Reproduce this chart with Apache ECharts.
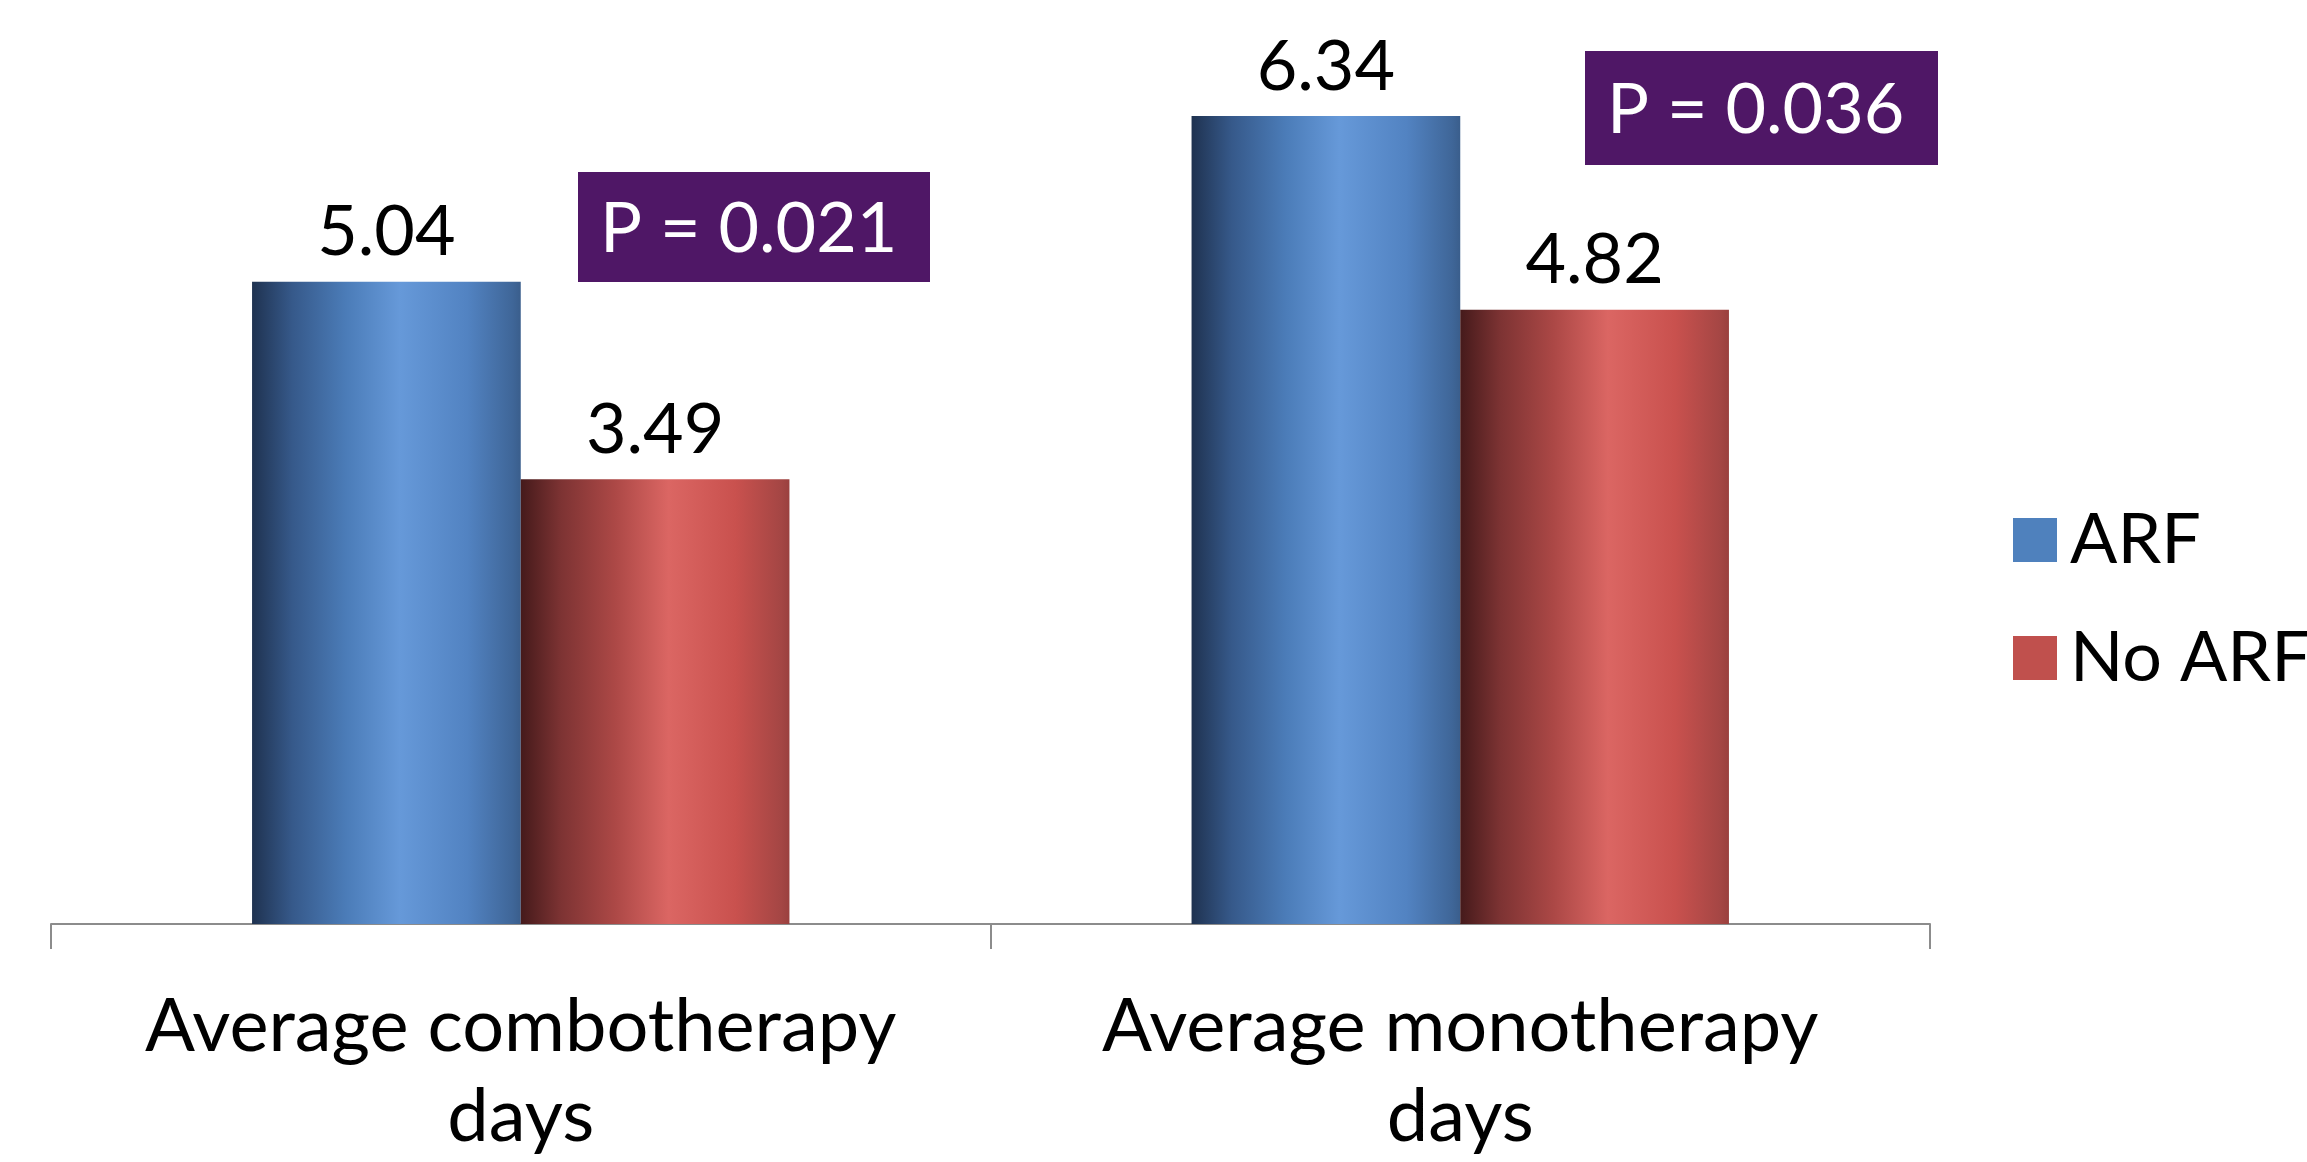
<!DOCTYPE html>
<html>
<head>
<meta charset="utf-8">
<script src="https://cdn.jsdelivr.net/npm/echarts@6/dist/echarts.min.js"></script>
<style>
html,body{margin:0;padding:0;background:#fff;}
#main{width:2307px;height:1162px;}
</style>
</head>
<body>
<div id="main"></div>
<script>
const categories = ['Average combotherapy\ndays', 'Average monotherapy\ndays'];
const seriesNames = ['ARF', 'No ARF'];
const arfValues = [5.04, 6.34];
const noArfValues = [3.49, 4.82];
const pLabels = ['P = 0.021', 'P = 0.036'];

const FONT = 'Lato';
const chart = echarts.init(document.getElementById('main'), null, {renderer: 'canvas'});

function grad(stops) {
  return new echarts.graphic.LinearGradient(0, 0, 1, 0, stops.map(s => ({offset: s[0], color: s[1]})));
}
const blueGrad = grad([[0, '#1f3250'], [0.15, '#36598a'], [0.35, '#4b7cb8'], [0.55, '#6699d9'], [0.8, '#5283c2'], [0.97, '#3f6698'], [1, '#3a5e8c']]);
const redGrad = grad([[0, '#451a1b'], [0.15, '#7d3333'], [0.35, '#ac4846'], [0.55, '#db6663'], [0.8, '#c9514e'], [0.97, '#a44644'], [1, '#9a403e']]);

const labelStyle = {
  show: true, position: 'top', distance: 14,
  fontFamily: FONT, fontSize: 70, color: '#000',
  formatter: p => p.value.toFixed(2)
};

chart.setOption({
  animation: false,
  backgroundColor: '#fff',
  grid: {left: 51, right: 377, top: 32, bottom: 238, containLabel: false},
  legend: {
    orient: 'vertical', left: 2008, top: 500,
    itemWidth: 44, itemHeight: 44, itemGap: 48,
    icon: 'rect',
    textStyle: {fontFamily: FONT, fontSize: 70, lineHeight: 44, color: '#000', padding: [0, 0, 0, 8]},
    data: [
      {name: seriesNames[0], itemStyle: {color: '#4f81bd'}},
      {name: seriesNames[1], itemStyle: {color: '#c0504d'}}
    ]
  },
  xAxis: {
    type: 'category', data: categories, boundaryGap: true,
    axisLine: {lineStyle: {color: '#8c8c8c', width: 2}},
    axisTick: {show: true, length: 25, lineStyle: {color: '#8c8c8c', width: 2}},
    axisLabel: {fontFamily: FONT, fontSize: 74, color: '#000', lineHeight: 90, margin: 58, interval: 0}
  },
  yAxis: {
    type: 'value', min: 0, max: 7, show: false,
    splitLine: {show: false}
  },
  series: [
    {name: seriesNames[0], type: 'bar', data: arfValues, barGap: '0%', barCategoryGap: '42.8%',
     itemStyle: {color: blueGrad}, label: labelStyle},
    {name: seriesNames[1], type: 'bar', data: noArfValues, barGap: '0%', barCategoryGap: '42.8%',
     itemStyle: {color: redGrad}, label: labelStyle}
  ],
  graphic: [
    {type: 'rect', x: 578, y: 172, shape: {x: 0, y: 0, width: 352, height: 110}, style: {fill: '#4f1766'}},
    {type: 'text', x: 600, y: 229, style: {text: pLabels[0], fill: '#fff', fontFamily: FONT, fontSize: 70, align: 'left', verticalAlign: 'middle'}},
    {type: 'rect', x: 1585, y: 51, shape: {x: 0, y: 0, width: 353, height: 114}, style: {fill: '#4f1766'}},
    {type: 'text', x: 1607, y: 110, style: {text: pLabels[1], fill: '#fff', fontFamily: FONT, fontSize: 70, align: 'left', verticalAlign: 'middle'}}
  ]
});
</script>
</body>
</html>
